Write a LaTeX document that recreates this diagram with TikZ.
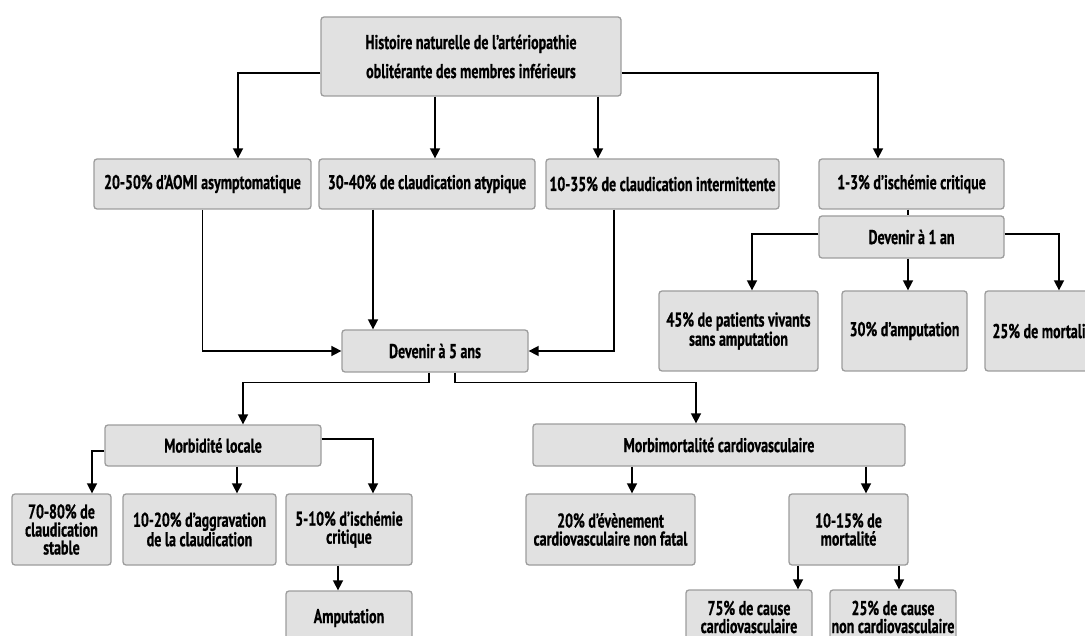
\documentclass[tikz,border=0pt]{standalone}
\usepackage{fontspec}
\setmainfont{PT Sans}[FakeStretch=0.70,BoldFeatures={FakeBold=0.6}]
\usetikzlibrary{arrows.meta}
\definecolor{boxfill}{HTML}{E1E1E1}
\definecolor{boxline}{HTML}{9C9C9C}
\begin{document}
\begin{tikzpicture}[x=1pt,y=-1pt,
  box/.style={draw=boxline,fill=boxfill,line width=1.3pt,rounded corners=3pt,
    inner sep=0pt,align=center,font=\bfseries\fontsize{20}{18}\selectfont},
  conn/.style={line width=1.6pt,black},
  arr/.style={conn,-{Triangle[length=10pt,width=10pt]}}]
\useasboundingbox (0,0) rectangle (1085,636);
\clip (0,0) rectangle (1085,636);
% nodes
\node[box,minimum width=300pt,minimum height=79pt,font=\bfseries\fontsize{20}{29}\selectfont] (top) at (471,56.5)
  {Histoire naturelle de l’artériopathie\\oblitérante des membres inférieurs};
\node[box,minimum width=217pt,minimum height=50pt] (a1) at (202.5,184) {20-50\% d’AOMI asymptomatique};
\node[box,minimum width=216pt,minimum height=50pt] (a2) at (427,184) {30-40\% de claudication atypique};
\node[box,minimum width=233pt,minimum height=50pt] (a3) at (662.5,184) {10-35\% de claudication intermittente};
\node[box,minimum width=185pt,minimum height=50pt] (a4) at (911.5,184) {1-3\% d’ischémie critique};
\node[box,minimum width=185pt,minimum height=42pt] (d1) at (911.5,237) {Devenir à 1 an};
\node[box,minimum width=159pt,minimum height=80pt] (r1) at (738.5,331) {45\% de patients vivants\\sans amputation};
\node[box,minimum width=125pt,minimum height=80pt] (r2) at (904.5,331) {30\% d’amputation};
\node[box,minimum width=120pt,minimum height=80pt] (r3) at (1045,331) {25\% de mortalité};
\node[box,minimum width=186pt,minimum height=42pt] (d5) at (435,351) {Devenir à 5 ans};
\node[box,minimum width=216pt,minimum height=41pt] (ml) at (213,445.5) {Morbidité locale};
\node[box,minimum width=372pt,minimum height=42pt] (mc) at (719,445) {Morbimortalité cardiovasculaire};
\node[box,minimum width=99pt,minimum height=71pt] (b1) at (61.5,529.5) {70-80\% de\\claudication\\stable};
\node[box,minimum width=153pt,minimum height=71pt] (b2) at (199.5,529.5) {10-20\% d’aggravation\\de la claudication};
\node[box,minimum width=126pt,minimum height=71pt] (b3) at (349,529.5) {5-10\% d’ischémie\\critique};
\node[box,minimum width=126pt,minimum height=54pt] (amp) at (349,618) {Amputation};
\node[box,minimum width=169pt,minimum height=71pt] (b4) at (610.5,529.5) {20\% d’évènement\\cardiovasculaire non fatal};
\node[box,minimum width=119pt,minimum height=71pt] (b5) at (848.5,529.5) {10-15\% de\\mortalité};
\node[box,minimum width=126pt,minimum height=54pt] (c1) at (749,617) {75\% de cause\\cardiovasculaire};
\node[box,minimum width=126pt,minimum height=54pt] (c2) at (893,617) {25\% de cause\\non cardiovasculaire};
% connectors
\draw[arr] ([yshift=-16.5pt]top.west) -| ([xshift=35.5pt]a1.north);
\draw[arr] ([yshift=-16.5pt]top.east) -| ([xshift=-33.5pt]a4.north);
\draw[arr] ([xshift=-36pt]top.south) -- ([xshift=-36pt]top.south |- a2.north);
\draw[arr] ([xshift=127pt]top.south) -- ([xshift=127pt]top.south |- a3.north);
\draw[arr] (a1.south) |- (d5.west);
\draw[arr] ([xshift=-54pt]a2.south) -- ([xshift=-54pt]a2.south |- d5.north);
\draw[arr] ([xshift=-48.5pt]a3.south) |- (d5.east);
\draw[conn] ([xshift=-3.5pt]a4.south) -- ([xshift=-3.5pt]d1.north);
\draw[arr] ([yshift=3pt]d1.west) -| ([xshift=13.5pt]r1.north);
\draw[arr] ([xshift=-3.5pt]d1.south) -- ([xshift=-3.5pt]d1.south |- r2.north);
\draw[arr] ([yshift=3pt]d1.east) -| ([xshift=14pt]r3.north);
\draw[arr] ([xshift=-6pt]d5.south) -- ++(0,10) -| ([xshift=30pt]ml.north);
\draw[arr] ([xshift=20pt]d5.south) -- ++(0,10) -| ([xshift=-23pt]mc.north);
\draw[arr] ([yshift=-5.5pt]ml.west) -| ([xshift=30.5pt]b1.north);
\draw[arr] ([xshift=24pt]ml.south) -- ([xshift=24pt]ml.south |- b2.north);
\draw[arr] ([yshift=6.5pt]ml.east) -| ([xshift=24pt]b3.north);
\draw[arr] ([xshift=-11pt]b3.south) -- ([xshift=-11pt]amp.north);
\draw[arr] ([xshift=-87pt]mc.south) -- ([xshift=-87pt]mc.south |- b4.north);
\draw[arr] ([xshift=147pt]mc.south) -- ([xshift=147pt]mc.south |- b5.north);
\draw[arr] ([xshift=-50.5pt]b5.south) -- ([xshift=-50.5pt]b5.south |- c1.north);
\draw[arr] ([xshift=50.5pt]b5.south) -- ([xshift=50.5pt]b5.south |- c2.north);
\end{tikzpicture}
\end{document}
